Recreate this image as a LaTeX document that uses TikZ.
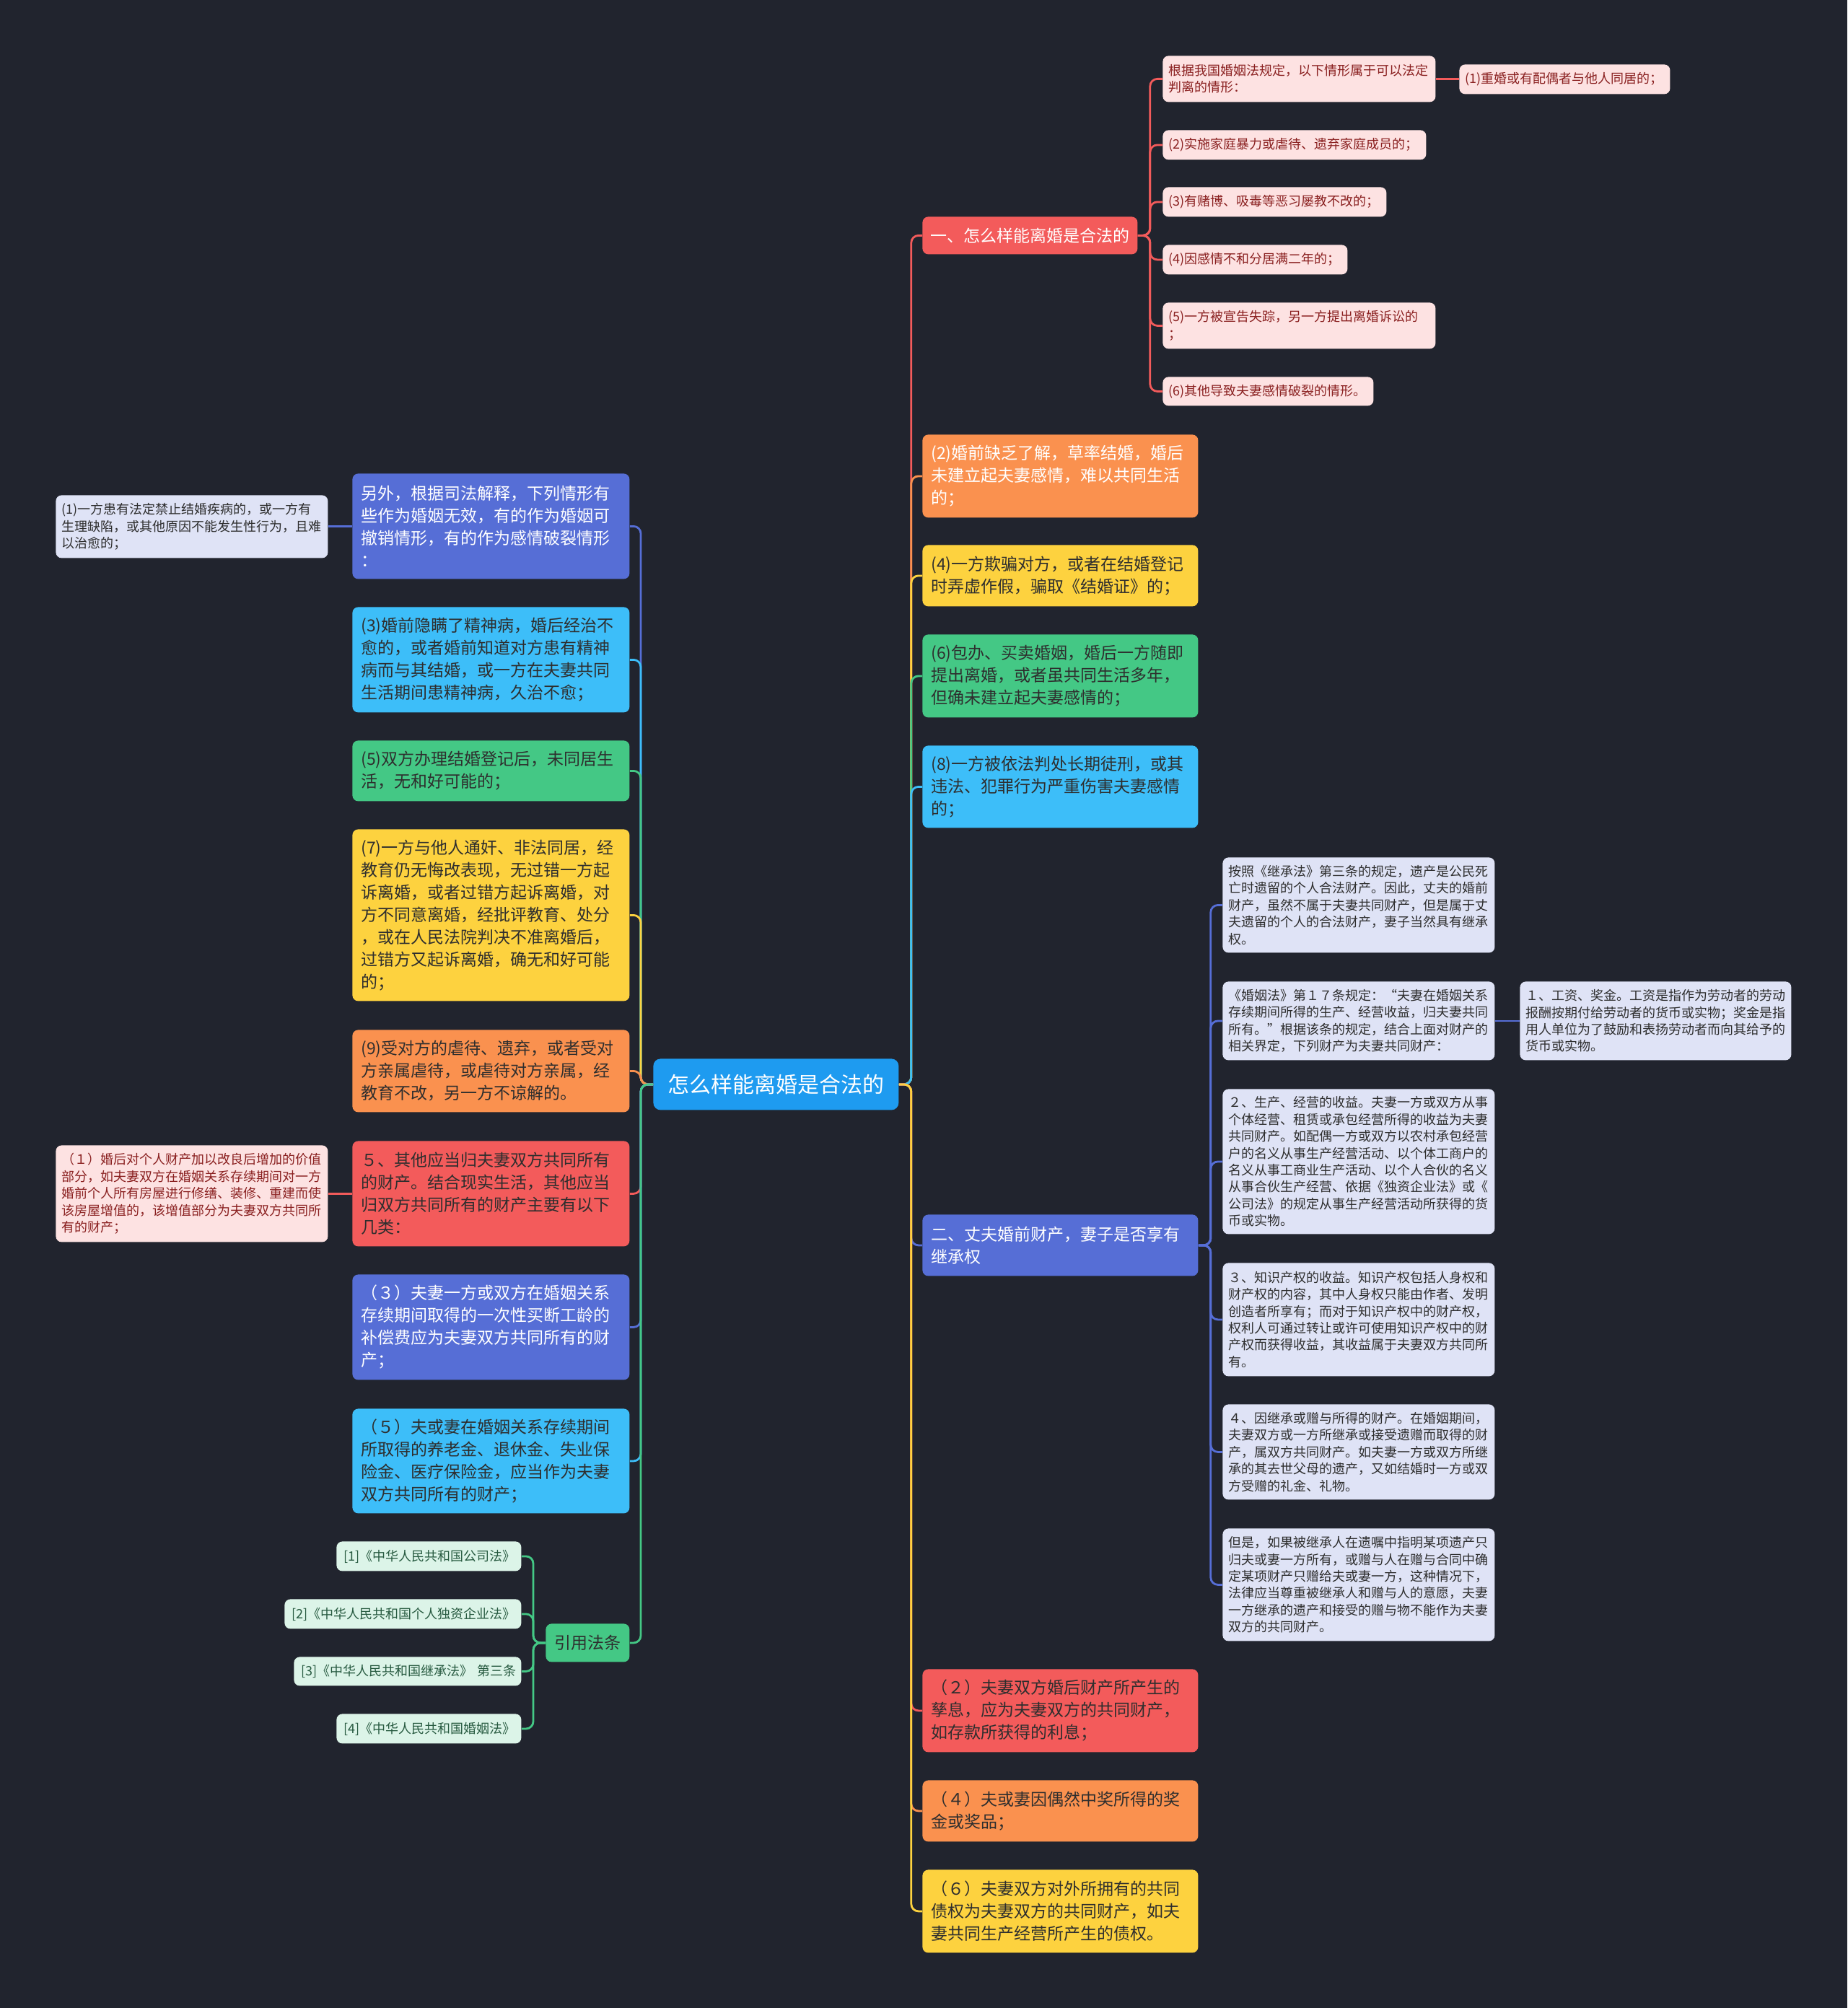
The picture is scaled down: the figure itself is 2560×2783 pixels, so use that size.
\documentclass[tikz,border=0pt]{standalone}
\usepackage{fontspec}
\setmainfont{Noto Sans CJK SC}
\definecolor{bg}{HTML}{21242E}
\definecolor{cRed}{HTML}{F35B5B}
\definecolor{cOrg}{HTML}{FA914F}
\definecolor{cYel}{HTML}{FDD23F}
\definecolor{cGrn}{HTML}{44C885}
\definecolor{cCyn}{HTML}{3DBEF9}
\definecolor{cPur}{HTML}{566ED6}
\definecolor{cCen}{HTML}{1E9BF0}
\definecolor{lPink}{HTML}{FDE2E2}
\definecolor{lLav}{HTML}{DFE3F6}
\definecolor{lGrn}{HTML}{DCF4E8}
\definecolor{tDark}{HTML}{2E2E2E}
\definecolor{tRed}{HTML}{8A2020}
\definecolor{tGrn}{HTML}{275A40}
\newcommand\nd[8]{%
  \pgfmathsetmacro\ndw{#5*0.5}%
  \pgfmathsetmacro\ndh{#6*0.5}%
  \pgfmathsetmacro\ndt{#5*0.5-2*#7}%
  \node[#2, anchor=north west, inner xsep=#7pt, minimum width=\ndw pt, minimum height=\ndh pt, text width=\ndt pt] (#1) at (#3,#4) {#8};}
\tikzset{
  link/.style={draw=#1, line width=1.4pt, rounded corners=5pt},
  nbase/.style={rounded corners=4pt, inner ysep=0pt, align=left},
  big/.style={nbase, font=\fontsize{11.5}{15.5}\selectfont},
  sml/.style={nbase, font=\fontsize{9}{11.7}\selectfont},
  cen/.style={nbase, rounded corners=5pt, align=center, fill=cCen, text=white, font=\fontsize{15}{18}\selectfont},
  pinkleaf/.style={sml, fill=lPink, text=tRed},
  lavleaf/.style={sml, fill=lLav, text=tDark},
  refleaf/.style={sml, fill=lGrn, text=tGrn},
}
\begin{document}
\begin{tikzpicture}[x=0.5pt,y=-0.5pt]
\fill[bg] (0,0) rectangle (2560,2783);
\useasboundingbox (0,0) rectangle (2560,2783);

% center
\nd{c}{cen}{905}{1467}{340}{71}{7}{怎么样能离婚是合法的}

% right main branches
\nd{r1}{big,fill=cRed,text=white}{1278}{300}{298}{52}{5.5}{一、怎么样能离婚是合法的}
\nd{r2}{big,fill=cOrg,text=white}{1278}{602}{382}{115}{6}{(2)婚前缺乏了解，草率结婚，婚后\\未建立起夫妻感情，难以共同生活\\的；}
\nd{r3}{big,fill=cYel,text=tDark}{1278}{755}{382}{85}{6}{(4)一方欺骗对方，或者在结婚登记\\时弄虚作假，骗取《结婚证》的；}
\nd{r4}{big,fill=cGrn,text=tDark}{1278}{879}{382}{115}{6}{(6)包办、买卖婚姻，婚后一方随即\\提出离婚，或者虽共同生活多年，\\但确未建立起夫妻感情的；}
\nd{r5}{big,fill=cCyn,text=tDark}{1278}{1033}{382}{114}{6}{(8)一方被依法判处长期徒刑，或其\\违法、犯罪行为严重伤害夫妻感情\\的；}
\nd{r6}{big,fill=cPur,text=white}{1278}{1683}{382}{85}{6}{二、丈夫婚前财产，妻子是否享有\\继承权}
\nd{r7}{big,fill=cRed,text=tDark}{1278}{2313}{382}{115}{6}{（２）夫妻双方婚后财产所产生的\\孳息，应为夫妻双方的共同财产，\\如存款所获得的利息；}
\nd{r8}{big,fill=cOrg,text=tDark}{1278}{2467}{382}{85}{6}{（４）夫或妻因偶然中奖所得的奖\\金或奖品；}
\nd{r9}{big,fill=cYel,text=tDark}{1278}{2591}{382}{115}{6}{（６）夫妻双方对外所拥有的共同\\债权为夫妻双方的共同财产，如夫\\妻共同生产经营所产生的债权。}

% left main branches
\nd{l1}{big,fill=cPur,text=white}{488}{656}{384}{146}{6}{另外，根据司法解释，下列情形有\\些作为婚姻无效，有的作为婚姻可\\撤销情形，有的作为感情破裂情形\\：}
\nd{l2}{big,fill=cCyn,text=tDark}{488}{841}{384}{146}{6}{(3)婚前隐瞒了精神病，婚后经治不\\愈的，或者婚前知道对方患有精神\\病而与其结婚，或一方在夫妻共同\\生活期间患精神病，久治不愈；}
\nd{l3}{big,fill=cGrn,text=tDark}{488}{1026}{384}{84}{6}{(5)双方办理结婚登记后，未同居生\\活，无和好可能的；}
\nd{l4}{big,fill=cYel,text=tDark}{488}{1149}{384}{238}{6}{(7)一方与他人通奸、非法同居，经\\教育仍无悔改表现，无过错一方起\\诉离婚，或者过错方起诉离婚，对\\方不同意离婚，经批评教育、处分\\，或在人民法院判决不准离婚后，\\过错方又起诉离婚，确无和好可能\\的；}
\nd{l5}{big,fill=cOrg,text=tDark}{488}{1427}{384}{114}{6}{(9)受对方的虐待、遗弃，或者受对\\方亲属虐待，或虐待对方亲属，经\\教育不改，另一方不谅解的。}
\nd{l6}{big,fill=cRed,text=tDark}{488}{1581}{384}{146}{6}{５、其他应当归夫妻双方共同所有\\的财产。结合现实生活，其他应当\\归双方共同所有的财产主要有以下\\几类：}
\nd{l7}{big,fill=cPur,text=white}{488}{1766}{384}{146}{6}{（３）夫妻一方或双方在婚姻关系\\存续期间取得的一次性买断工龄的\\补偿费应为夫妻双方共同所有的财\\产；}
\nd{l8}{big,fill=cCyn,text=tDark}{488}{1952}{384}{145}{6}{（５）夫或妻在婚姻关系存续期间\\所取得的养老金、退休金、失业保\\险金、医疗保险金，应当作为夫妻\\双方共同所有的财产；}
\nd{l9}{big,fill=cGrn,text=tDark}{756}{2250}{116}{53}{6}{引用法条}

% left leaves
\nd{la}{lavleaf}{77}{686}{377}{87}{4}{(1)一方患有法定禁止结婚疾病的，或一方有\\生理缺陷，或其他原因不能发生性行为，且难\\以治愈的；}
\nd{lb}{pinkleaf}{77}{1587}{377}{134}{4}{（１）婚后对个人财产加以改良后增加的价值\\部分，如夫妻双方在婚姻关系存续期间对一方\\婚前个人所有房屋进行修缮、装修、重建而使\\该房屋增值的，该增值部分为夫妻双方共同所\\有的财产；}

% references
\nd{f1}{refleaf}{466}{2136}{256}{41}{5}{[1]《中华人民共和国公司法》}
\nd{f2}{refleaf}{394}{2216}{328}{41}{5}{[2]《中华人民共和国个人独资企业法》}
\nd{f3}{refleaf}{407}{2296}{315}{40}{5}{\mbox{[3]《中华人民共和国继承法》 第三条}}
\nd{f4}{refleaf}{466}{2375}{256}{41}{5}{[4]《中华人民共和国婚姻法》}

% top-right leaves
\nd{p0}{pinkleaf}{1611}{77}{378}{64}{4}{根据我国婚姻法规定，以下情形属于可以法定\\判离的情形：}
\nd{p1}{pinkleaf}{2022}{89}{292}{41}{4}{(1)重婚或有配偶者与他人同居的；}
\nd{p2}{pinkleaf}{1611}{180}{365}{41}{4}{(2)实施家庭暴力或虐待、遗弃家庭成员的；}
\nd{p3}{pinkleaf}{1611}{259}{310}{41}{4}{(3)有赌博、吸毒等恶习屡教不改的；}
\nd{p4}{pinkleaf}{1611}{339}{256}{41}{4}{(4)因感情不和分居满二年的；}
\nd{p5}{pinkleaf}{1611}{419}{378}{64}{4}{(5)一方被宣告失踪，另一方提出离婚诉讼的\\；}
\nd{p6}{pinkleaf}{1611}{522}{292}{40}{4}{(6)其他导致夫妻感情破裂的情形。}

% lower-right leaves
\nd{q1}{lavleaf}{1694}{1188}{377}{132}{4}{按照《继承法》第三条的规定，遗产是公民死\\亡时遗留的个人合法财产。因此，丈夫的婚前\\财产，虽然不属于夫妻共同财产，但是属于丈\\夫遗留的个人的合法财产，妻子当然具有继承\\权。}
\nd{q2}{lavleaf}{1694}{1360}{377}{109}{4}{《婚姻法》第１７条规定：“夫妻在婚姻关系\\存续期间所得的生产、经营收益，归夫妻共同\\所有。”根据该条的规定，结合上面对财产的\\相关界定，下列财产为夫妻共同财产：}
\nd{q2b}{lavleaf}{2106}{1360}{376}{109}{4}{１、工资、奖金。工资是指作为劳动者的劳动\\报酬按期付给劳动者的货币或实物；奖金是指\\用人单位为了鼓励和表扬劳动者而向其给予的\\货币或实物。}
\nd{q3}{lavleaf}{1694}{1509}{377}{201}{4}{２、生产、经营的收益。夫妻一方或双方从事\\个体经营、租赁或承包经营所得的收益为夫妻\\共同财产。如配偶一方或双方以农村承包经营\\户的名义从事生产经营活动、以个体工商户的\\名义从事工商业生产活动、以个人合伙的名义\\从事合伙生产经营、依据《独资企业法》或《\\公司法》的规定从事生产经营活动所获得的货\\币或实物。}
\nd{q4}{lavleaf}{1694}{1750}{377}{157}{4}{３、知识产权的收益。知识产权包括人身权和\\财产权的内容，其中人身权只能由作者、发明\\创造者所享有；而对于知识产权中的财产权，\\权利人可通过转让或许可使用知识产权中的财\\产权而获得收益，其收益属于夫妻双方共同所\\有。}
\nd{q5}{lavleaf}{1694}{1946}{377}{132}{4}{４、因继承或赠与所得的财产。在婚姻期间，\\夫妻双方或一方所继承或接受遗赠而取得的财\\产，属双方共同财产。如夫妻一方或双方所继\\承的其去世父母的遗产，又如结婚时一方或双\\方受赠的礼金、礼物。}
\nd{q6}{lavleaf}{1694}{2118}{377}{156}{4}{但是，如果被继承人在遗嘱中指明某项遗产只\\归夫或妻一方所有，或赠与人在赠与合同中确\\定某项财产只赠给夫或妻一方，这种情况下，\\法律应当尊重被继承人和赠与人的意愿，夫妻\\一方继承的遗产和接受的赠与物不能作为夫妻\\双方的共同财产。}

% connectors: center -> right
\draw[link=cRed] (c.east) -- ++(17,0) |- (r1.west);
\draw[link=cOrg] (c.east) -- ++(17,0) |- (r2.west);
\draw[link=cYel] (c.east) -- ++(17,0) |- (r3.west);
\draw[link=cGrn] (c.east) -- ++(17,0) |- (r4.west);
\draw[link=cCyn] (c.east) -- ++(17,0) |- (r5.west);
\draw[link=cPur] (c.east) -- ++(17,0) |- (r6.west);
\draw[link=cRed] (c.east) -- ++(17,0) |- (r7.west);
\draw[link=cOrg] (c.east) -- ++(17,0) |- (r8.west);
\draw[link=cYel] (c.east) -- ++(17,0) |- (r9.west);
% center -> left
\draw[link=cPur] (c.west) -- ++(-17,0) |- (l1.east);
\draw[link=cCyn] (c.west) -- ++(-17,0) |- (l2.east);
\draw[link=cGrn] (c.west) -- ++(-17,0) |- (l3.east);
\draw[link=cYel] (c.west) -- ++(-17,0) |- (l4.east);
\draw[link=cOrg] (c.west) -- ++(-17,0) |- (l5.east);
\draw[link=cRed] (c.west) -- ++(-17,0) |- (l6.east);
\draw[link=cPur] (c.west) -- ++(-17,0) |- (l7.east);
\draw[link=cCyn] (c.west) -- ++(-17,0) |- (l8.east);
\draw[link=cGrn] (c.west) -- ++(-17,0) |- (l9.east);
% branch one leaves
\foreach \n in {p0,p2,p3,p4,p5,p6}
  \draw[link=cRed] (r1.east) -- ++(17,0) |- (\n.west);
\draw[link=cRed] (p0.east) -- (p0.east -| p1.west);
% branch two leaves
\foreach \n in {q1,q2,q3,q4,q5,q6}
  \draw[link=cPur] (r6.east) -- ++(17,0) |- (\n.west);
\draw[link=cPur] (q2.east) -- (q2.east -| q2b.west);
% left leaves
\draw[link=cPur] (l1.west) -- (l1.west -| la.east);
\draw[link=cRed] (l6.west) -- (l6.west -| lb.east);
% references
\foreach \n in {f1,f2,f3,f4}
  \draw[link=cGrn] (l9.west) -- ++(-17,0) |- (\n.east);
\end{tikzpicture}
\end{document}
